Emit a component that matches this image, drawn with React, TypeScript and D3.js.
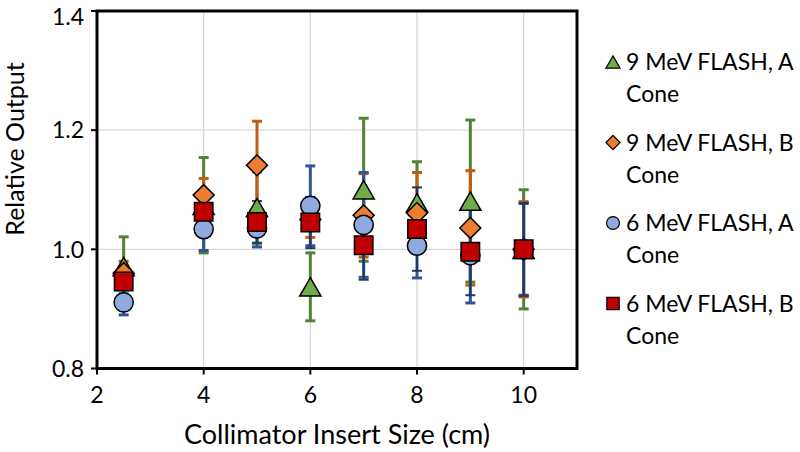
import React, { useEffect, useRef } from "react";
import * as d3 from "d3";

const sizes = [2.5, 4, 5, 6, 7, 8, 9, 10];
const xTicks = [2, 4, 6, 8, 10];
const yTicks = [0.8, 1.0, 1.2, 1.4];

const green9A = [0.971, 1.074, 1.07, 0.937, 1.1, 1.078, 1.081, 1.0];
const green9AErr = [0.05, 0.08, 0.06, 0.057, 0.12, 0.069, 0.136, 0.1];
const orange9B = [0.96, 1.091, 1.141, 1.05, 1.057, 1.061, 1.036, 1.0];
const orange9BErr = [0.02, 0.028, 0.074, 0.03, 0.07, 0.068, 0.096, 0.08];
const blue6A = [0.911, 1.034, 1.035, 1.073, 1.041, 1.006, 0.99, 1.0];
const blue6AErr = [0.021, 0.036, 0.031, 0.067, 0.088, 0.054, 0.08, 0.077];
const red6B = [0.946, 1.063, 1.046, 1.045, 1.007, 1.034, 0.996, 1.0];
const red6BErr = [0.02, 0.035, 0.035, 0.043, 0.058, 0.07, 0.073, 0.078];

const seriesNames = [
  ["9 MeV FLASH, A", "Cone"],
  ["9 MeV FLASH, B", "Cone"],
  ["6 MeV FLASH, A", "Cone"],
  ["6 MeV FLASH, B", "Cone"],
];

const FONT = "Lato, 'DejaVu Sans', sans-serif";

export default function App() {
  const ref = useRef<SVGSVGElement>(null);
  useEffect(() => {
    const svg = d3.select(ref.current);
    svg.selectAll("*").remove();
    const W = 800, H = 452;
    const L = 97, R = 577, T = 11, B = 368.5;
    const x = d3.scaleLinear().domain([2, 11]).range([L, R]);
    const y = d3.scaleLinear().domain([0.8, 1.4]).range([B, T]);

    svg.append("rect").attr("width", W).attr("height", H).attr("fill", "#fff");

    const grid = svg.append("g");
    xTicks.filter((t) => t > 2).forEach((t) => {
      grid.append("line").attr("x1", x(t)).attr("x2", x(t)).attr("y1", T).attr("y2", B)
        .attr("stroke", "#d9d9d9").attr("stroke-width", 1.3);
    });
    yTicks.filter((t) => t > 0.8 && t < 1.4).forEach((t) => {
      grid.append("line").attr("x1", L).attr("x2", R).attr("y1", y(t)).attr("y2", y(t))
        .attr("stroke", "#d9d9d9").attr("stroke-width", 1.3);
    });

    const triSize = 195;
    const triShift = Math.sqrt(triSize / (3 * Math.sqrt(3))) / 2;
    const series = [
      { vals: green9A, errs: green9AErr, fill: "#70ad47", err: "#548235", ew: 3, shape: d3.symbolTriangle, size: triSize, dy: triShift, rot: 0 },
      { vals: orange9B, errs: orange9BErr, fill: "#ed7d31", err: "#c55a11", ew: 3, shape: d3.symbolSquare, size: 220, dy: 0, rot: 45 },
      { vals: blue6A, errs: blue6AErr, fill: "#8faadc", err: "#2f5597", ew: 3, shape: d3.symbolCircle, size: 290, dy: 0, rot: 0 },
      { vals: red6B, errs: red6BErr, fill: "#c00000", err: "#1f3864", ew: 2, shape: d3.symbolSquare, size: 340, dy: 0, rot: 0 },
    ];

    const eb = svg.append("g");
    series.forEach((s) => {
      sizes.forEach((sz, i) => {
        const cx = x(sz);
        const y1 = y(s.vals[i] + s.errs[i]);
        const y0 = y(s.vals[i] - s.errs[i]);
        eb.append("line").attr("x1", cx).attr("x2", cx).attr("y1", y1).attr("y2", y0)
          .attr("stroke", s.err).attr("stroke-width", s.ew);
        [y1, y0].forEach((yy) => {
          eb.append("line").attr("x1", cx - 5).attr("x2", cx + 5).attr("y1", yy).attr("y2", yy)
            .attr("stroke", s.err).attr("stroke-width", s.ew);
        });
      });
    });

    const mk = svg.append("g");
    series.forEach((s) => {
      const sym = d3.symbol().type(s.shape).size(s.size);
      sizes.forEach((sz, i) => {
        mk.append("path").attr("d", sym()!)
          .attr("transform", `translate(${x(sz)},${y(s.vals[i]) + s.dy}) rotate(${s.rot})`)
          .attr("fill", s.fill).attr("stroke", "#000").attr("stroke-width", 1.5);
      });
    });

    // frame
    svg.append("rect").attr("x", L).attr("y", T).attr("width", R - L).attr("height", B - T)
      .attr("fill", "none").attr("stroke", "#000").attr("stroke-width", 3);

    // ticks
    xTicks.forEach((t) => {
      svg.append("line").attr("x1", x(t)).attr("x2", x(t)).attr("y1", B).attr("y2", B + 6)
        .attr("stroke", "#000").attr("stroke-width", 2);
      svg.append("text").attr("x", x(t)).attr("y", 403).attr("text-anchor", "middle")
        .attr("font-family", FONT).attr("font-size", 23).attr("fill", "#000").text(String(t));
    });
    yTicks.forEach((t) => {
      svg.append("line").attr("x1", L - 6).attr("x2", L).attr("y1", y(t)).attr("y2", y(t))
        .attr("stroke", "#000").attr("stroke-width", 2);
      svg.append("text").attr("x", L - 13).attr("y", Math.max(y(t), 17)).attr("dy", "0.36em").attr("text-anchor", "end")
        .attr("font-family", FONT).attr("font-size", 23).attr("fill", "#000").text(d3.format(".1f")(t));
    });

    svg.append("text").attr("x", 337).attr("y", 444).attr("text-anchor", "middle")
      .attr("font-family", FONT).attr("font-size", 27).attr("fill", "#000").text("Collimator Insert Size (cm)");
    svg.append("text").attr("transform", `translate(24,149) rotate(-90)`).attr("text-anchor", "middle")
      .attr("font-family", FONT).attr("font-size", 25).attr("fill", "#000").text("Relative Output");

    // legend
    const lg = svg.append("g");
    series.forEach((s, k) => {
      const base = 70 + k * 80.5;
      const sym = d3.symbol().type(s.shape).size(s.size * 0.45);
      lg.append("path").attr("d", sym()!)
        .attr("transform", `translate(613,${base - 8 + s.dy * 0.67}) rotate(${s.rot})`)
        .attr("fill", s.fill).attr("stroke", "#000").attr("stroke-width", 1.2);
      seriesNames[k].forEach((line, j) => {
        lg.append("text").attr("x", 626).attr("y", base + j * 32)
          .attr("font-family", FONT).attr("font-size", 23).attr("fill", "#000").text(line);
      });
    });
  }, []);
  return (
    <svg ref={ref} width={800} height={452} style={{ position: "absolute", left: 0, top: 0, display: "block" }} />
  );
}
